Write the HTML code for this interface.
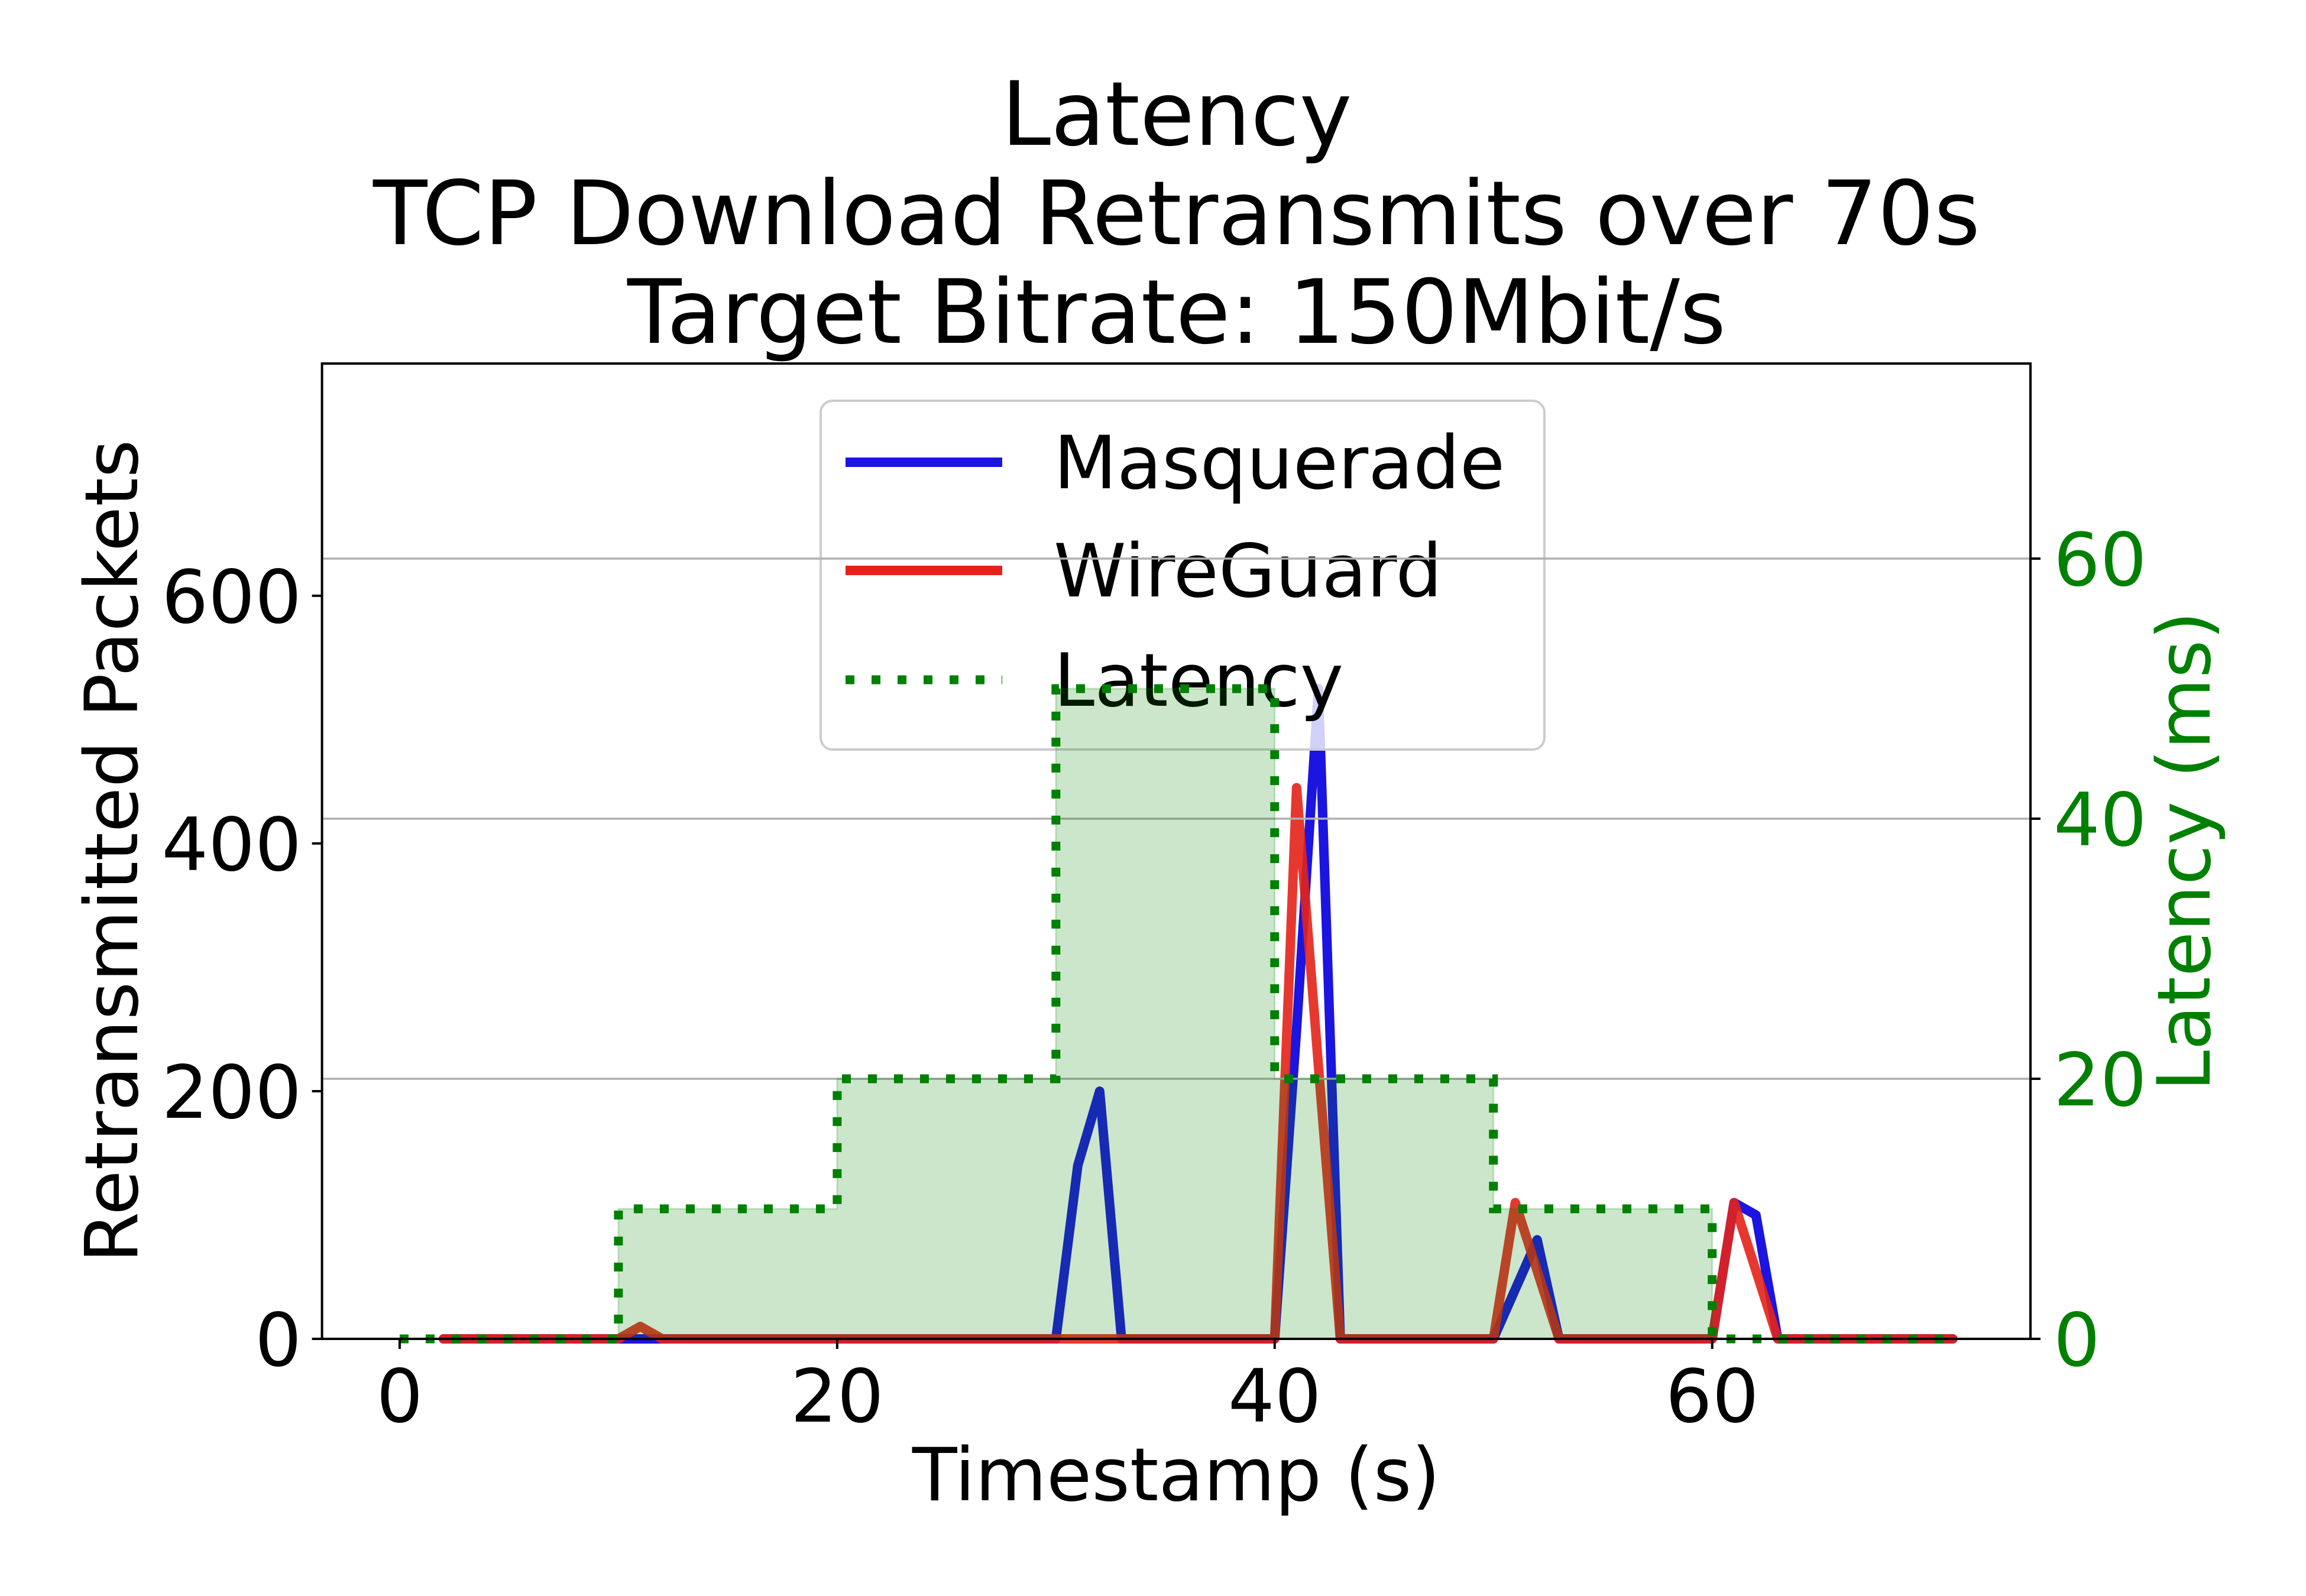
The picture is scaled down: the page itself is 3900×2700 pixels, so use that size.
<!DOCTYPE html>
<html><head><meta charset="utf-8"><style>
html,body{margin:0;padding:0;background:#fff;}
svg{display:block;font-family:"DejaVu Sans","Liberation Sans",sans-serif;}
</style></head><body>
<svg id="chart" width="3900" height="2700" viewBox="0 0 3900 2700" xmlns="http://www.w3.org/2000/svg">
<rect width="3900" height="2700" fill="#fff"/>
<g font-size="150" text-anchor="middle" fill="#000">
<text x="1990" y="245">Latency</text>
<text x="1990" y="413">TCP Download Retransmits over 70s</text>
<text x="1990" y="580">Target Bitrate: 150Mbit/s</text>
</g>
<g id="plot"></g>
</svg>
<script>
const timestamps = [];
for (let t = 2; t <= 71; t++) timestamps.push(t);
const masqPoints = {31:140, 32:200, 41:250, 42:525, 51:40, 52:80, 61:110, 62:100};
const wgPoints = {11:10, 41:445, 42:220, 51:110, 52:55, 61:110, 62:55};
const masquerade = timestamps.map(t => masqPoints[t] || 0);
const wireguard = timestamps.map(t => wgPoints[t] || 0);
const latencyTimes = [0, 10, 20, 30, 40, 50, 60, 71];
const latencyValues = [0, 10, 20, 50, 20, 10, 0, 0];
const xTicks = [0, 20, 40, 60];
const leftTicks = [0, 200, 400, 600];
const rightTicks = [0, 20, 40, 60];

const L = 544.6, R = 3434, T = 615, B = 2265;
const xMin = -3.55, xMax = 74.55, yLMax = 787.5, yRMax = 75;
const X = v => L + (v - xMin) / (xMax - xMin) * (R - L);
const YL = v => B - v / yLMax * (B - T);
const YR = v => B - v / yRMax * (B - T);
const NS = 'http://www.w3.org/2000/svg';
const plot = document.getElementById('plot');
function mk(tag, attrs, parent) {
  const e = document.createElementNS(NS, tag);
  for (const k in attrs) e.setAttribute(k, attrs[k]);
  (parent || plot).appendChild(e);
  return e;
}
function linePath(xs, ys, fy) {
  return xs.map((x, i) => (i ? 'L' : 'M') + X(x).toFixed(1) + ' ' + fy(ys[i]).toFixed(1)).join(' ');
}
function stepPath(xs, ys) {
  let d = 'M' + X(xs[0]) + ' ' + YR(ys[0]);
  for (let i = 1; i < xs.length; i++) {
    d += ' L' + X(xs[i]) + ' ' + YR(ys[i - 1]) + ' L' + X(xs[i]) + ' ' + YR(ys[i]);
  }
  return d;
}

const mLine = mk('path', {d: linePath(timestamps, masquerade, YL), fill: 'none', stroke: '#1c14e0', 'stroke-width': 16, 'stroke-linejoin': 'round', 'stroke-linecap': 'round'});


const wLine = mk('path', {d: linePath(timestamps, wireguard, YL), fill: 'none', stroke: '#e4221a', 'stroke-opacity': 0.9, 'stroke-width': 16, 'stroke-linejoin': 'round', 'stroke-linecap': 'round'});



const lg = mk('g', {});


mk('rect', {x: 1388, y: 678, width: 1224, height: 590, rx: 20, fill: '#fff', 'fill-opacity': 0.8, stroke: '#cccccc', 'stroke-width': 4}, lg);
const entries = [['Masquerade', '#1c14e0', null, 782], ['WireGuard', '#e4221a', null, 965], ['Latency', '#008000', '15 29', 1150]];
entries.forEach(en => {
  const g = mk('g', {}, lg);
  
  
  const a = {x1: 1430, x2: 1695, y1: en[3], y2: en[3], stroke: en[1], 'stroke-width': en[2] ? 15 : 16};
  if (en[2]) a['stroke-dasharray'] = en[2];
  mk('line', a, g);
  const t = mk('text', {x: 1782, y: en[3] + 44, 'font-size': 124, fill: '#000'}, g);
  t.textContent = en[0];
});

rightTicks.forEach(v => {
  const gl = mk('line', {x1: L, x2: R, y1: YR(v), y2: YR(v), stroke: '#b0b0b0', 'stroke-width': 3.5});
  
  
});

let fd = stepPath(latencyTimes, latencyValues) + ' L' + X(latencyTimes[latencyTimes.length - 1]) + ' ' + YR(0) + ' L' + X(latencyTimes[0]) + ' ' + YR(0) + ' Z';
const fill = mk('path', {d: fd, fill: '#008000', 'fill-opacity': 0.2, stroke: '#008000', 'stroke-opacity': 0.2, 'stroke-width': 3});


const lat = mk('path', {d: stepPath(latencyTimes, latencyValues), fill: 'none', stroke: '#008000', 'stroke-width': 15, 'stroke-dasharray': '15 29'});



const sp = mk('rect', {x: L, y: T, width: R - L, height: B - T, fill: 'none', stroke: '#000', 'stroke-width': 4});



xTicks.forEach(v => {
  mk('line', {x1: X(v), x2: X(v), y1: B, y2: B + 17, stroke: '#000', 'stroke-width': 4});
  const t = mk('text', {x: X(v), y: 2405, 'font-size': 124, 'text-anchor': 'middle', fill: '#000'});
  
  
  t.textContent = v;
});
leftTicks.forEach(v => {
  mk('line', {x1: L - 17, x2: L, y1: YL(v), y2: YL(v), stroke: '#000', 'stroke-width': 4});
  const t = mk('text', {x: 510, y: YL(v) + 45, 'font-size': 124, 'text-anchor': 'end', fill: '#000'});
  
  
  t.textContent = v;
});
rightTicks.forEach(v => {
  mk('line', {x1: R, x2: R + 17, y1: YR(v), y2: YR(v), stroke: '#000', 'stroke-width': 4});
  const t = mk('text', {x: 3473, y: YR(v) + 45, 'font-size': 124, fill: '#008000'});
  
  
  t.textContent = v;
});

const xl = mk('text', {x: (L + R) / 2, y: 2538, 'font-size': 124, 'text-anchor': 'middle', fill: '#000'});


xl.textContent = 'Timestamp (s)';
const yl = mk('text', {x: 0, y: 0, 'font-size': 124, 'text-anchor': 'middle', fill: '#000', transform: 'translate(232,1440) rotate(-90)'});


yl.textContent = 'Retransmitted Packets';
const yr = mk('text', {x: 0, y: 0, 'font-size': 124, 'text-anchor': 'middle', fill: '#008000', transform: 'translate(3737,1440) rotate(-90)'});


yr.textContent = 'Latency (ms)';
</script>
</body></html>
